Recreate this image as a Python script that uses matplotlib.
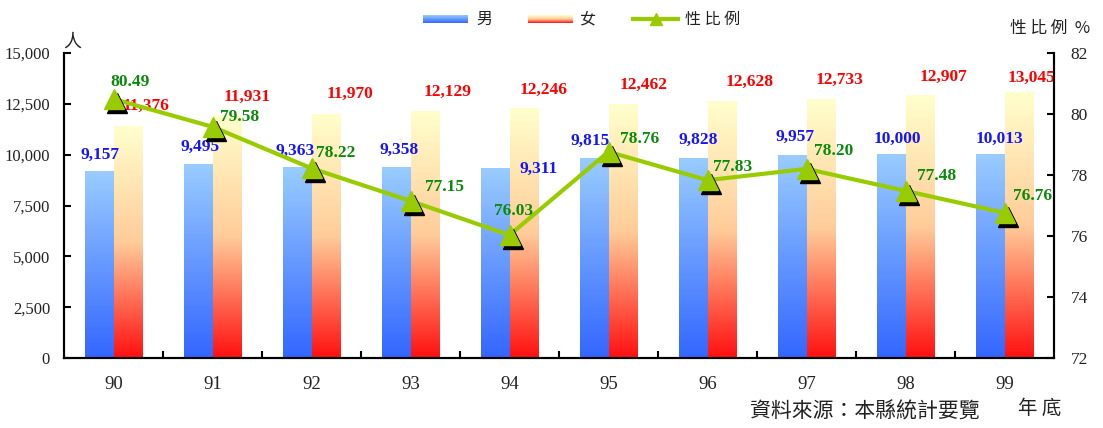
import numpy as np
import matplotlib
matplotlib.use('Agg')
import matplotlib.pyplot as plt
from matplotlib.colors import LinearSegmentedColormap
from matplotlib.transforms import offset_copy
from matplotlib.lines import Line2D
from matplotlib.ticker import FuncFormatter, FixedLocator

# ---------------- data ----------------
years = ['90', '91', '92', '93', '94', '95', '96', '97', '98', '99']
male = [9157, 9495, 9363, 9358, 9311, 9815, 9828, 9957, 10000, 10013]
female = [11376, 11931, 11970, 12129, 12246, 12462, 12628, 12733, 12907, 13045]
ratio = [80.49, 79.58, 78.22, 77.15, 76.03, 78.76, 77.83, 78.20, 77.48, 76.76]

left_ticks = [0, 2500, 5000, 7500, 10000, 12500, 15000]
right_ticks = [72, 74, 76, 78, 80, 82]

# label offsets (pixels) relative to anchor points
male_off = [(0.5, 17), (2, 18), (-2, 16.6), (3, 17.7), (43, 0), (-4, 17.5), (5, 18), (3, 18.5), (6, 15.7), (9, 15.4)]
female_off = [(18, 20.7), (20, 19), (24, 20.6), (23, 19.4), (20, 19), (21, 19.6), (28, 19), (19, 19), (23.5, 18.6), (13, 15)]
ratio_off = [(17, 17), (27.5, 10), (24, 15), (33.5, 14), (4.5, 24), (31.5, 13), (25, 13), (27.5, 18), (31, 15), (28, 17)]

SERIF = ['Liberation Serif', 'DejaVu Serif']
CJK = ['Noto Sans CJK TC', 'DejaVu Sans']

male_cmap = LinearSegmentedColormap.from_list('m', ['#3366ff', '#99ccff'])
female_cmap = LinearSegmentedColormap.from_list('f', [(0, '#ff1010'), (0.5, '#ffcc99'), (1.0, '#ffffcc')])
line_color = '#99cc00'

W, H = 1103, 428
fig = plt.figure(figsize=(W / 100, H / 100), dpi=100)
ax = fig.add_axes([64 / W, (H - 358) / H, (1054 - 64) / W, (358 - 53) / H])
ax2 = ax.twinx()

x = np.arange(len(years))
bw = 0.29
grad = np.linspace(0, 1, 256).reshape(-1, 1)[::-1]

for i in range(len(years)):
    ax.imshow(grad, extent=[x[i] - bw, x[i], 0, male[i]], aspect='auto', cmap=male_cmap,
              interpolation='bilinear', zorder=1)
    ax.imshow(grad, extent=[x[i], x[i] + bw, 0, female[i]], aspect='auto', cmap=female_cmap,
              interpolation='bilinear', zorder=1)

for i in range(len(years)):
    ax.annotate(f'{male[i]:,}', (x[i] - bw / 2, male[i]), xytext=male_off[i], textcoords='offset pixels',
                ha='center', va='center', color='#1414ff', fontsize=12.5, fontweight='bold', family=SERIF, zorder=5)
    ax.annotate(f'{female[i]:,}', (x[i] + bw / 2, female[i]), xytext=female_off[i], textcoords='offset pixels',
                ha='center', va='center', color='#ff0000', fontsize=12.5, fontweight='bold', family=SERIF, zorder=5)

ax.set_xlim(-0.5, len(years) - 0.5)
ax.set_ylim(0, 15000)
ax2.set_ylim(72, 82)

# line + markers with shadow
ax2.plot(x, ratio, color=line_color, lw=3, zorder=2)
shadow_tr = offset_copy(ax2.transData, fig=fig, x=3, y=-4, units='dots')
ax2.plot(x, ratio, ls='none', marker='^', ms=15, color='black', mec='black', transform=shadow_tr, zorder=3)
ax2.plot(x, ratio, ls='none', marker='^', ms=15, color=line_color, mec=line_color, zorder=4)
for i in range(len(years)):
    ax2.annotate(f'{ratio[i]:.2f}', (x[i], ratio[i]), xytext=ratio_off[i], textcoords='offset pixels',
                 ha='center', va='center', color='#0a8a0a', fontsize=12.5, fontweight='bold', family=SERIF, zorder=6)

# axes styling
for a in (ax, ax2):
    a.spines['top'].set_visible(False)
    for s in ('left', 'right', 'bottom'):
        a.spines[s].set_linewidth(1.5)
ax.set_yticks(left_ticks)
ax.yaxis.set_major_formatter(FuncFormatter(lambda v, p: f'{int(v):,}'))
ax.tick_params(axis='y', direction='in', length=5, width=1.5, pad=10, labelsize=12, labelcolor='#222222')
ax2.set_yticks(right_ticks)
ax2.tick_params(axis='y', direction='in', length=5, width=1.5, pad=12, labelsize=12.5, labelcolor='#222222')
ax.set_xticks(x)
ax.set_xticklabels(years)
ax.tick_params(axis='x', which='major', length=0, pad=13, labelsize=13.5, labelcolor='#222222')
ax.xaxis.set_minor_locator(FixedLocator(np.arange(0.5, len(years) - 1, 1.0)))
ax.tick_params(axis='x', which='minor', direction='in', length=5, width=1.5)
for lab in ax.get_xticklabels() + ax.get_yticklabels() + ax2.get_yticklabels():
    lab.set_family(SERIF)

# annotations
fig.text(72 / W, 1 - 42 / H, '人', family=CJK, fontsize=13, ha='center', va='center', color='#222222')
fig.text(1050 / W, 1 - 28 / H, '性 比 例  %', family=CJK, fontsize=12, ha='center', va='center', color='#222222')
fig.text(1040 / W, 1 - 408 / H, '年 底', family=CJK, fontsize=14, ha='center', va='center', color='#222222')
fig.text(865 / W, 1 - 412 / H, '資料來源：本縣統計要覽', family=CJK, fontsize=15, ha='center', va='center', color='#222222')

# legend (manual)
def swatch(x0, cmap):
    la = fig.add_axes([x0 / W, 1 - 23 / H, 45 / W, 8 / H])
    la.imshow(grad, aspect='auto', cmap=cmap, interpolation='bilinear')
    la.axis('off')

swatch(423, male_cmap)
fig.text(476 / W, 1 - 19 / H, '男', family=CJK, fontsize=11.5, va='center', color='#222222')
swatch(528, female_cmap)
fig.text(580 / W, 1 - 19 / H, '女', family=CJK, fontsize=11.5, va='center', color='#222222')
fig.add_artist(Line2D([633 / W, 678 / W], [1 - 19 / H, 1 - 19 / H], color=line_color, lw=3, transform=fig.transFigure))
fig.add_artist(Line2D([655.5 / W], [1 - 19 / H], marker='^', ms=9, color=line_color, transform=fig.transFigure))
fig.text(685 / W, 1 - 19 / H, '性 比 例', family=CJK, fontsize=11.5, va='center', color='#222222')

fig.savefig('out.png', dpi=100)
